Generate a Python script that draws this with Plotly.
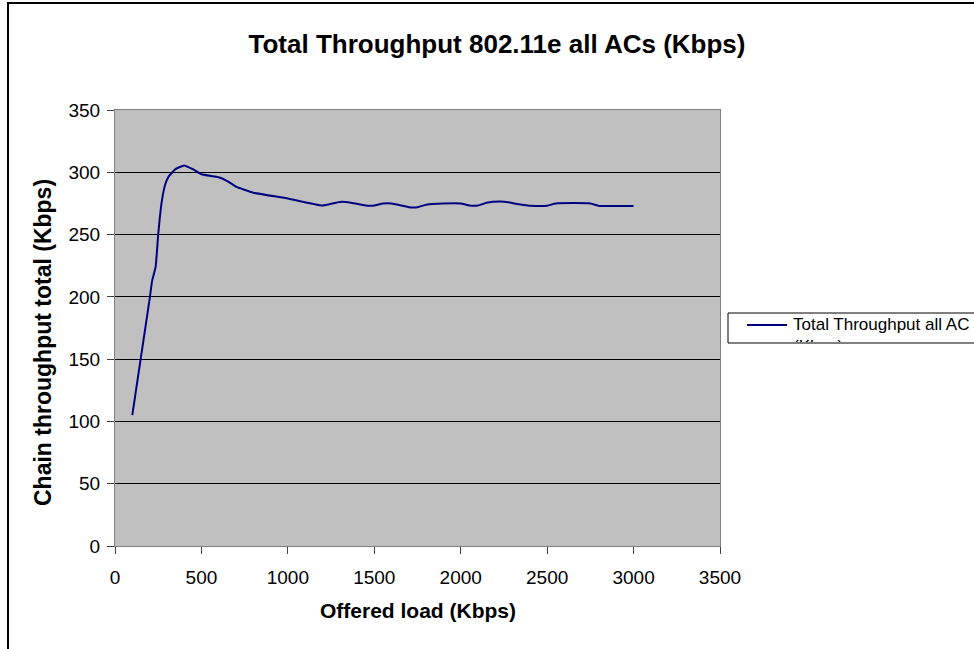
import plotly.graph_objects as go

offered_load = [100, 200, 215, 235, 250, 270, 290, 310, 350, 400, 450, 500, 600, 650, 700, 800,
                1000, 1200, 1300, 1350, 1450, 1500, 1550, 1600, 1700, 1750, 1800, 1900, 2000,
                2050, 2100, 2150, 2225, 2275, 2325, 2400, 2500, 2550, 2750, 2800, 2900, 3000]
throughput = [105, 198, 213, 224, 250, 276, 290, 296.5, 302.5, 305.5, 302.5, 298.4, 296, 293, 288.5, 283.6,
              279, 273.3, 276.2, 276, 273.3, 273.3, 275, 275, 272, 272, 274, 275, 275,
              273.3, 273.3, 275.5, 276.5, 276, 274.5, 273.2, 273.2, 275, 275, 273, 273, 273]

x_ticks = [0, 500, 1000, 1500, 2000, 2500, 3000, 3500]
y_ticks = [0, 50, 100, 150, 200, 250, 300, 350]

title_text = "Total Throughput 802.11e all ACs (Kbps)"
x_title = "Offered load (Kbps)"
y_title = "Chain throughput total (Kbps)"
series_name = "Total Throughput all AC"
legend_text = "Total Throughput all AC<br>(Kbps)"

FONT = "Liberation Sans, Arial, sans-serif"
LINE_COLOR = "#000080"

fig = go.Figure()
fig.add_trace(go.Scatter(
    x=offered_load, y=throughput, mode="lines", name=series_name, showlegend=False,
    line=dict(color=LINE_COLOR, width=2, shape="spline", smoothing=0.4),
))

L, R, T, B = 115, 254, 110, 103
W, H = 974, 649
pw, ph = W - L - R, H - T - B


def px(xp):
    return (xp - L) / pw


def py(yp):
    return (H - B - yp) / ph


fig.update_layout(
    width=W, height=H,
    margin=dict(l=L, r=R, t=T, b=B, autoexpand=False),
    paper_bgcolor="white",
    plot_bgcolor="#C0C0C0",
    font=dict(family=FONT, color="black", size=19),
    title=dict(text="<b>" + title_text + "</b>", x=497 / W, xanchor="center",
               y=1 - 44 / H, yanchor="middle", font=dict(size=26, family=FONT)),
    showlegend=False,
    xaxis=dict(range=[0, 3500], tickvals=x_ticks, showgrid=False, zeroline=False,
               showline=True, linecolor="#808080", linewidth=1, mirror=True,
               ticks="outside", ticklen=7, tickcolor="#404040",
               ticklabelstandoff=7),
    yaxis=dict(range=[0, 350], tickvals=y_ticks, showgrid=True, gridcolor="black", gridwidth=1,
               zeroline=False, showline=True, linecolor="#808080", linewidth=1, mirror=True,
               ticks="outside", ticklen=7, tickcolor="#404040",
               ticklabelstandoff=3),
)

fig.add_annotation(text="<b>" + x_title + "</b>", xref="paper", yref="paper",
                   x=0.5, y=py(610), xanchor="center", yanchor="middle",
                   showarrow=False, font=dict(size=21, family=FONT))
fig.add_annotation(text="<b>" + y_title + "</b>", xref="paper", yref="paper",
                   x=px(43), y=py(343), xanchor="center", yanchor="middle",
                   textangle=-90, showarrow=False, font=dict(size=23, family=FONT))

# outer chart border
fig.add_shape(type="rect", xref="paper", yref="paper",
              x0=px(8), x1=px(1010), y0=py(720), y1=py(3),
              line=dict(color="black", width=2), fillcolor="rgba(0,0,0,0)", layer="below")

# legend box (clipped at the right edge, as in the original)
fig.add_shape(type="rect", xref="paper", yref="paper",
              x0=px(728), x1=px(1010), y0=py(343), y1=py(313),
              line=dict(color="black", width=1), fillcolor="white", layer="above")
fig.add_shape(type="line", xref="paper", yref="paper",
              x0=px(747), x1=px(787), y0=py(325), y1=py(325),
              line=dict(color=LINE_COLOR, width=2), layer="above")
fig.add_annotation(text=legend_text, xref="paper", yref="paper",
                   x=px(792), y=py(314), xanchor="left", yanchor="top",
                   align="left", valign="top", height=27, width=230,
                   showarrow=False, borderpad=0, font=dict(size=17, family=FONT))

fig.write_html("out.html", config={"displayModeBar": False},
               post_script="document.body.style.margin='0px';")
